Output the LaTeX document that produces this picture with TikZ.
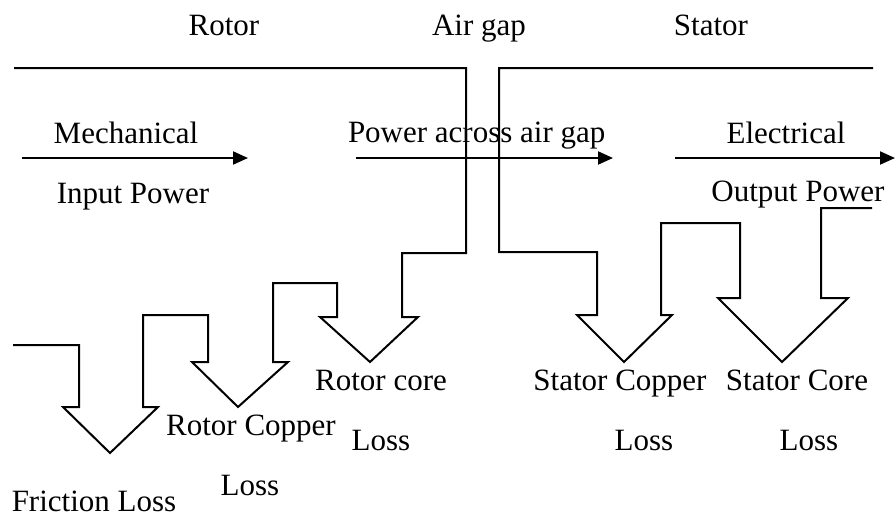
\documentclass[tikz,border=0pt]{standalone}
\usepackage{fontspec}
\setmainfont{Liberation Serif}
\usetikzlibrary{arrows.meta}
\begin{document}
\begin{tikzpicture}[x=0.5pt,y=-0.5pt,line width=1pt,line join=miter,
  lbl/.style={font=\fontsize{15.5}{18}\selectfont,inner sep=0pt,anchor=base},
  flow/.style={-{Triangle[length=7.5pt,width=6.5pt]},line width=1pt}]
\useasboundingbox (0,0) rectangle (896,515);
% rotor outline with loss arrows
\draw (14,68) -- (466,68) -- (466,253) -- (402,253) -- (402,317) -- (418,317)
  -- (370,362) -- (320,317) -- (337,317) -- (337,283) -- (273,283) -- (273,362)
  -- (288,362) -- (238,407) -- (192,362) -- (208,362) -- (208,315) -- (143,315)
  -- (143,407) -- (158,407) -- (110,453) -- (63,407) -- (79,407) -- (79,345) -- (13,345);
% stator outline with loss arrows
\draw (873,68) -- (499,68) -- (499,252) -- (597,252) -- (597,315) -- (577,315)
  -- (624,362) -- (672,315) -- (661,315) -- (661,223) -- (740,223) -- (740,298)
  -- (718,298) -- (782,362) -- (848,298) -- (821,298) -- (821,208) -- (872,208);
% power flow arrows
\coordinate (m1) at (22,158);  \coordinate (m2) at (248,158);
\coordinate (g1) at (356,158); \coordinate (g2) at (613,158);
\coordinate (e1) at (675,158); \coordinate (e2) at (895,158);
\draw[flow] (m1) -- (m2);
\draw[flow] (g1) -- (g2);
\draw[flow] (e1) -- (e2);
% labels
\node[lbl] (rotor) at (224,35) {Rotor};
\node[lbl] (airgap) at (479,35) {Air gap};
\node[lbl] (stator) at (711,35) {Stator};
\node[lbl] (mech) at (126,143) {Mechanical};
\node[lbl] (inp) at (133,203) {Input Power};
\node[lbl,anchor=base west] (pag) at (347,142) {Power across air gap};
\node[lbl] (elec) at (786,143) {Electrical};
\node[lbl] (outp) at (798,201) {Output Power};
\node[lbl] (rcore) at (381,390) {Rotor core};
\node[lbl] (rcoreL) at (381,450) {Loss};
\node[lbl] (rcop) at (251,435) {Rotor Copper};
\node[lbl] (rcopL) at (250,495) {Loss};
\node[lbl] (fric) at (94,511) {Friction Loss};
\node[lbl] (scop) at (620,390) {Stator Copper};
\node[lbl] (scopL) at (644,450) {Loss};
\node[lbl] (score) at (797,390) {Stator Core};
\node[lbl] (scoreL) at (809,450) {Loss};
\end{tikzpicture}
\end{document}
